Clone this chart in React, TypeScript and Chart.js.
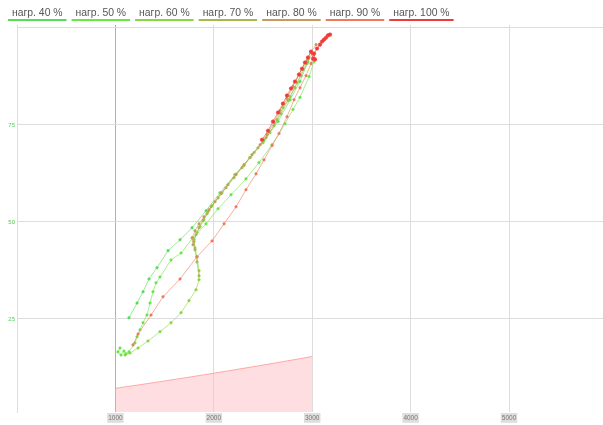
import React, { useEffect, useRef } from 'react';
import { Chart, registerables } from 'chart.js';

Chart.register(...registerables);

const seriesLabels = ['нагр. 40 %', 'нагр. 50 %', 'нагр. 60 %', 'нагр. 70 %', 'нагр. 80 %', 'нагр. 90 %', 'нагр. 100 %'];
const seriesColors = ['#55dd55', '#66e844', '#88d644', '#a8b850', '#c89a5a', '#ec7a5c', '#ee3a3a'];

const xTickValues = [1000, 2000, 3000, 4000, 5000];
const yTickValues = [25, 50, 75, 100];

const load40X = [1138, 1220, 1281, 1342, 1423, 1535, 1657, 1779, 1921, 2063, 2216, 2368, 2510, 2653, 2775, 2876, 2957];
const load40Y = [25.3, 29.1, 32.0, 35.3, 38.2, 42.6, 45.4, 48.5, 52.9, 57.5, 62.2, 66.6, 71.0, 75.9, 81.5, 86.2, 91.3];

const load50X = [1047, 1026, 1057, 1087, 1108, 1138, 1199, 1220, 1250, 1281, 1321, 1352, 1382, 1413, 1453, 1565, 1667, 1789, 1921, 2043, 2175, 2327, 2459, 2592, 2724, 2805, 2876, 2968, 3018];
const load50Y = [17.5, 16.5, 15.7, 16.7, 16.0, 16.5, 18.8, 20.4, 22.2, 24.0, 26.0, 29.1, 32.0, 34.3, 35.8, 40.2, 42.0, 45.9, 49.5, 53.4, 57.0, 61.1, 65.3, 69.9, 75.3, 79.0, 82.1, 87.5, 91.3];

const load60X = [1098, 1148, 1230, 1331, 1453, 1565, 1667, 1748, 1819, 1850, 1850, 1829, 1809, 1799, 1829, 1860, 1900, 1941, 1982, 2083, 2216, 2307, 2409, 2500, 2571, 2642, 2703, 2775, 2846, 2907, 2957];
const load60Y = [15.7, 16.2, 17.5, 19.3, 21.7, 24.0, 26.6, 29.7, 32.5, 35.1, 37.4, 41.0, 43.3, 45.4, 47.2, 48.8, 50.6, 52.6, 54.2, 57.5, 62.2, 64.5, 67.9, 70.4, 73.0, 76.4, 79.5, 82.3, 85.9, 89.3, 91.9];

const load70X = [1850, 1829, 1809, 1799, 1819, 1850, 1890, 1931, 1972, 2043, 2124, 2205, 2287, 2368, 2449, 2531, 2612, 2683, 2754, 2825, 2886, 2947, 2998];
const load70Y = [36.1, 39.7, 42.8, 44.9, 46.7, 48.5, 50.3, 52.1, 53.9, 56.2, 58.8, 61.4, 64.0, 66.6, 69.1, 71.7, 74.8, 77.9, 81.3, 84.6, 87.7, 90.8, 93.4];

const load80X = [1789, 1779, 1809, 1850, 1900, 1951, 2012, 2073, 2144, 2226, 2307, 2388, 2470, 2541, 2612, 2673, 2744, 2805, 2866, 2927, 2988, 3039];
const load80Y = [44.1, 45.9, 47.7, 49.5, 51.3, 53.1, 55.2, 57.3, 59.6, 62.2, 64.8, 67.3, 69.9, 72.5, 75.6, 78.7, 81.8, 84.9, 88.0, 91.1, 93.9, 95.7];

const load90X = [1179, 1230, 1362, 1484, 1657, 1829, 1982, 2104, 2226, 2327, 2429, 2510, 2592, 2663, 2744, 2815, 2876, 2937, 2988, 3018];
const load90Y = [18.3, 21.1, 26.0, 30.7, 35.3, 41.0, 45.1, 49.5, 53.9, 58.3, 62.4, 66.0, 69.7, 72.8, 77.1, 81.5, 84.6, 87.7, 90.8, 93.2];

const load100X = [2490, 2551, 2602, 2653, 2703, 2744, 2785, 2825, 2866, 2896, 2927, 2957, 2988, 3008, 3029, 3018, 3049, 3079, 3100, 3120, 3140, 3161, 3181];
const load100Y = [71.2, 73.5, 75.9, 78.2, 80.5, 82.6, 84.4, 86.2, 88.0, 89.5, 91.1, 92.4, 93.9, 92.1, 91.9, 93.4, 94.7, 95.7, 96.5, 97.0, 97.5, 98.1, 98.3];

const bandX = [1000, 1500, 2000, 2500, 3000];
const bandY = [7.1, 9.0, 11.0, 13.1, 15.3];

const seriesX = [load40X, load50X, load60X, load70X, load80X, load90X, load100X];
const seriesY = [load40Y, load50Y, load60Y, load70Y, load80Y, load90Y, load100Y];

const zip = (xs: number[], ys: number[]) => xs.map((x, i) => ({ x, y: ys[i] }));

const legendPlugin = {
  id: 'underlineLegend',
  afterDraw(chart: any) {
    const ctx = chart.ctx;
    ctx.save();
    ctx.font = '10.4px "Liberation Sans", Arial, sans-serif';
    ctx.textBaseline = 'alphabetic';
    let x = 8;
    seriesLabels.forEach((label, i) => {
      const w = ctx.measureText(label).width + 8;
      ctx.fillStyle = '#555555';
      ctx.fillText(label, x + 4, 16);
      ctx.fillStyle = seriesColors[i];
      ctx.fillRect(x, 19, w, 2);
      x += w + 5;
    });
    ctx.restore();
  },
};

export default function App() {
  const ref = useRef<HTMLCanvasElement | null>(null);

  useEffect(() => {
    document.body.style.margin = '0';
    if (!ref.current) return;
    const datasets: any[] = seriesLabels.map((label, i) => ({
      label,
      data: zip(seriesX[i], seriesY[i]),
      borderColor: seriesColors[i] + '99',
      backgroundColor: seriesColors[i],
      pointBackgroundColor: seriesColors[i],
      pointBorderColor: seriesColors[i],
      borderWidth: 1,
      pointRadius: i === 6 ? 1.8 : 1.3,
      pointBorderWidth: 0.5,
      tension: 0,
      fill: false,
      order: 7 - i,
    }));
    datasets.push({
      label: 'band',
      data: zip(bandX, bandY),
      borderColor: 'rgba(255,150,150,0.8)',
      backgroundColor: 'rgba(255,190,195,0.5)',
      borderWidth: 1,
      pointRadius: 0,
      fill: 'origin',
      tension: 0.3,
      order: 20,
    });
    const chart = new Chart(ref.current, {
      type: 'line',
      data: { datasets },
      plugins: [legendPlugin],
      options: {
        animation: false,
        responsive: false,
        devicePixelRatio: 1,
        layout: { autoPadding: false, padding: { top: 25, left: 0, right: 0, bottom: 0 } },
        plugins: { legend: { display: false }, tooltip: { enabled: false }, title: { display: false } },
        scales: {
          x: {
            type: 'linear',
            min: 0,
            max: 5955,
            border: { display: false },
            grid: {
              drawTicks: false,
              color: (c: any) => (c.tick && c.tick.value === 1000 ? '#b0b0b0' : '#dddddd'),
            },
            afterBuildTicks: (s: any) => { s.ticks = xTickValues.map((v) => ({ value: v })); },
            ticks: {
              autoSkip: false,
              maxRotation: 0,
              padding: 2,
              color: '#777777',
              font: { size: 6.5, family: '"Liberation Sans", Arial, sans-serif' },
              callback: (v: any) => String(v),
              showLabelBackdrop: true,
              backdropColor: 'rgba(190,190,190,0.5)',
              backdropPadding: 1,
            },
            afterFit: (s: any) => { s.height = 13; s.paddingRight = 0; s.paddingLeft = 0; },
          },
          y: {
            type: 'linear',
            min: 1,
            max: 100.77,
            border: { display: true, color: '#dddddd' },
            grid: { drawTicks: false, color: '#dddddd' },
            afterBuildTicks: (s: any) => { s.ticks = yTickValues.map((v) => ({ value: v })); },
            ticks: {
              autoSkip: false,
              padding: 2,
              color: '#55cc55',
              font: { size: 6, family: '"Liberation Sans", Arial, sans-serif' },
              callback: (v: any) => (v === 100 ? '' : String(v)),
            },
            afterFit: (s: any) => { s.width = 17; s.paddingTop = 0; s.paddingBottom = 0; },
          },
        },
      },
    });
    return () => chart.destroy();
  }, []);

  return (
    <div style={{ width: 603, height: 425 }}>
      <canvas ref={ref} width={603} height={425} />
    </div>
  );
}
